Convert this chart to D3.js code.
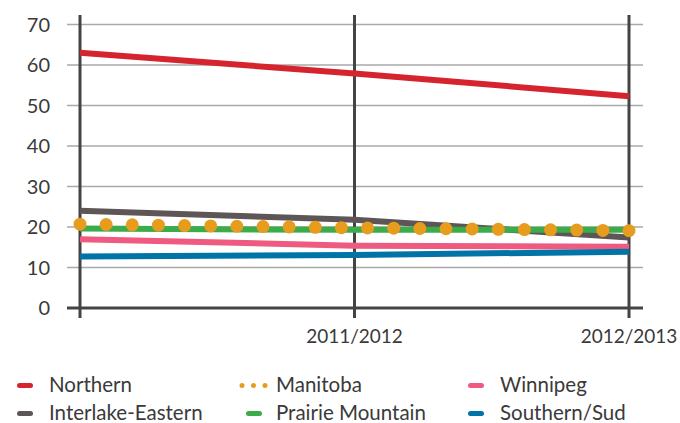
<!DOCTYPE html>
<html>
<head>
<meta charset="utf-8">
<script src="https://cdn.jsdelivr.net/npm/d3@7"></script>
<style>
  body { margin: 0; background: #fff; }
  svg { font-family: Lato, "Open Sans", sans-serif; }
</style>
</head>
<body>
<svg width="680" height="423"></svg>
<script>
// chart values
var categories = ["", "2011/2012", "2012/2013"];
var northern = [63.0, 57.9, 52.3];
var interlake = [24.0, 21.8, 17.4];
var manitoba = [20.7, 19.8, 19.1];
var prairie = [19.6, 19.3, 19.3];
var winnipeg = [17.0, 15.4, 15.1];
var southern = [12.7, 13.1, 13.9];
var yTicks = [0, 10, 20, 30, 40, 50, 60, 70];

var series = [
  {name: "Northern", values: northern, color: "#d6242e", dotted: false},
  {name: "Interlake-Eastern", values: interlake, color: "#5e5556", dotted: false},
  {name: "Prairie Mountain", values: prairie, color: "#3cab4a", dotted: false},
  {name: "Winnipeg", values: winnipeg, color: "#ef5a80", dotted: false},
  {name: "Southern/Sud", values: southern, color: "#0073a7", dotted: false},
  {name: "Manitoba", values: manitoba, color: "#e89c1e", dotted: true}
];

var svg = d3.select("svg");

var x = d3.scalePoint().domain(categories).range([80, 629]);
var y = d3.scaleLinear().domain([0, 70]).range([308, 24.5]);

// gridlines
svg.append("g")
  .selectAll("line")
  .data(yTicks.slice(1))
  .join("line")
    .attr("x1", 67).attr("x2", 643)
    .attr("y1", d => y(d)).attr("y2", d => y(d))
    .attr("stroke", "#a9a9a9")
    .attr("stroke-width", 1.5);

// vertical category lines
svg.append("g")
  .selectAll("line")
  .data(categories)
  .join("line")
    .attr("x1", d => x(d)).attr("x2", d => x(d))
    .attr("y1", 15).attr("y2", 318)
    .attr("stroke", "#444")
    .attr("stroke-width", 3);

// baseline
svg.append("line")
  .attr("x1", 67).attr("x2", 643)
  .attr("y1", y(0)).attr("y2", y(0))
  .attr("stroke", "#444")
  .attr("stroke-width", 3);

// y tick labels
svg.append("g")
  .selectAll("text")
  .data(yTicks)
  .join("text")
    .attr("x", 50)
    .attr("y", d => y(d))
    .attr("dy", "0.36em")
    .attr("text-anchor", "end")
    .attr("font-size", 20)
    .attr("fill", "#3a3a3a")
    .text(d => d);

// x tick labels
svg.append("g")
  .selectAll("text")
  .data(categories)
  .join("text")
    .attr("x", d => x(d))
    .attr("y", 343)
    .attr("text-anchor", "middle")
    .attr("font-size", 19)
    .attr("fill", "#3a3a3a")
    .text(d => d);

var line = d3.line()
  .x((d, i) => x(categories[i]))
  .y(d => y(d));

series.forEach(function(s) {
  var p = svg.append("path")
    .datum(s.values)
    .attr("fill", "none")
    .attr("stroke", s.color)
    .attr("d", line);
  if (s.dotted) {
    p.attr("stroke-width", 13)
     .attr("stroke-linecap", "round")
     .attr("pathLength", 21)
     .attr("stroke-dasharray", "0,1");
  } else {
    p.attr("stroke-width", 6);
  }
});

// legend
var legendItems = [
  {name: "Northern", color: "#d6242e", dotted: false, lx: 17, tx: 49, ty: 392},
  {name: "Manitoba", color: "#e89c1e", dotted: true, lx: 242, tx: 276, ty: 392},
  {name: "Winnipeg", color: "#ef5a80", dotted: false, lx: 468, tx: 500, ty: 392},
  {name: "Interlake-Eastern", color: "#5e5556", dotted: false, lx: 17, tx: 49, ty: 420},
  {name: "Prairie Mountain", color: "#3cab4a", dotted: false, lx: 246, tx: 276, ty: 420},
  {name: "Southern/Sud", color: "#0073a7", dotted: false, lx: 468, tx: 500, ty: 420}
];

var leg = svg.append("g")
  .selectAll("g")
  .data(legendItems)
  .join("g");

leg.each(function(d) {
  var g = d3.select(this);
  if (d.dotted) {
    g.selectAll("circle")
      .data([0, 1, 2])
      .join("circle")
        .attr("cx", i => d.lx + i * 11.5)
        .attr("cy", d.ty - 6.5)
        .attr("r", 2.5)
        .attr("fill", d.color);
  } else {
    g.append("line")
      .attr("x1", d.lx + 2.5).attr("x2", d.lx + 13.5)
      .attr("y1", d.ty - 6.5).attr("y2", d.ty - 6.5)
      .attr("stroke", d.color)
      .attr("stroke-width", 5)
      .attr("stroke-linecap", "round");
  }
  g.append("text")
    .attr("x", d.tx)
    .attr("y", d.ty)
    .attr("font-size", 20.5)
    .attr("fill", "#3a3a3a")
    .text(d.name);
});
</script>
</body>
</html>
